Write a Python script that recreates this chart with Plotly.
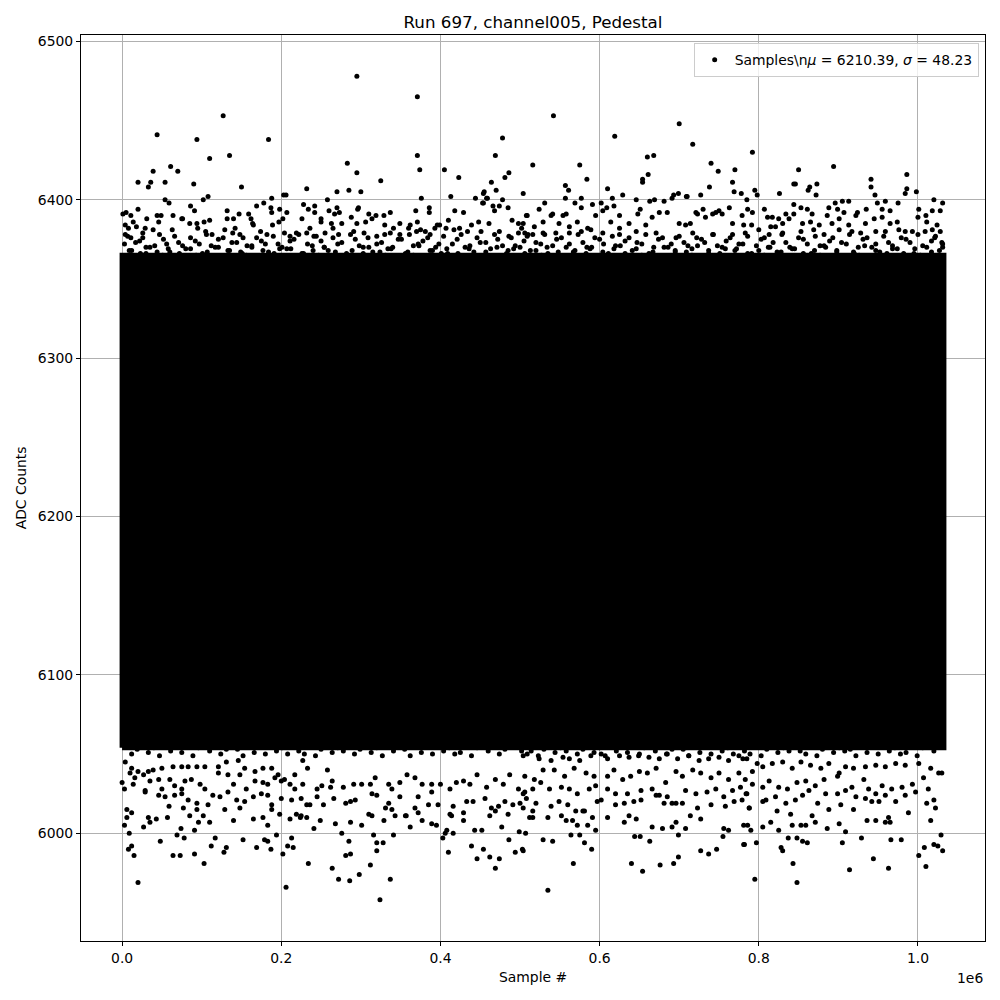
import plotly.graph_objects as go

TITLE = "Run 697, channel005, Pedestal"
N_SAMPLES = 1032600
MEAN = 6210.39
SIGMA = 48.23
# dense core band of overlapping samples (ADC counts)
CORE_LOW, CORE_HIGH = 6054, 6365

# sparse samples: (sample index in thousands, ADC counts)
upper_far = [
    (127, 6453), (44, 6441), (94, 6438), (184, 6438), (110, 6426), (135, 6428), (61, 6421),
    (39, 6418), (70, 6418), (20, 6411), (36, 6411), (33, 6408), (54, 6411), (90, 6410),
    (150, 6408), (232, 6407), (108, 6402), (102, 6400), (54, 6400), (59, 6398), (188, 6401),
    (203, 6403), (206, 6403),
    (295, 6478), (371, 6465), (371, 6428), (374, 6419), (283, 6423), (295, 6417), (325, 6412),
    (270, 6405), (285, 6406), (300, 6405), (258, 6400), (376, 6401), (405, 6419), (423, 6414),
    (478, 6439), (469, 6428), (486, 6417), (481, 6414), (464, 6411), (470, 6406), (454, 6404),
    (455, 6405), (413, 6402), (444, 6401), (478, 6400), (504, 6404), (459, 6401),
    (542, 6453), (619, 6440), (516, 6422), (575, 6422), (584, 6413), (557, 6409), (561, 6406),
    (610, 6407), (660, 6427), (668, 6428), (661, 6416), (654, 6411), (654, 6413), (700, 6448),
    (717, 6435), (740, 6423), (749, 6418), (770, 6419), (767, 6411), (769, 6405), (778, 6404),
    (738, 6408), (727, 6403), (709, 6402), (699, 6404), (693, 6403), (629, 6403), (616, 6401),
    (577, 6401), (557, 6401), (531, 6398),
    (792, 6430), (850, 6419), (894, 6421), (844, 6410), (846, 6410), (862, 6406), (864, 6408),
    (873, 6410), (872, 6403), (826, 6404), (795, 6406), (798, 6403), (941, 6413), (941, 6408),
    (946, 6403), (986, 6416), (986, 6407), (984, 6404), (998, 6405),
]
upper_near = [
    (1, 6391), (5, 6392), (11, 6390), (20, 6394), (31, 6388), (44, 6390), (49, 6390), (64, 6390),
    (75, 6388), (76, 6388), (86, 6396), (91, 6393), (94, 6385), (103, 6386), (110, 6387),
    (132, 6393), (132, 6388), (140, 6388), (147, 6391), (159, 6391), (162, 6388), (165, 6384),
    (169, 6396), (178, 6398), (187, 6395), (188, 6392), (198, 6394), (202, 6388), (207, 6392),
    (226, 6388), (228, 6397), (234, 6394),
    (4, 6384), (8, 6382), (14, 6386), (18, 6383), (26, 6379), (29, 6382), (39, 6381), (46, 6386),
    (63, 6381), (85, 6385), (95, 6382), (105, 6380), (113, 6378), (129, 6381), (139, 6379),
    (142, 6382), (152, 6376), (164, 6385), (174, 6380), (182, 6378), (189, 6384), (197, 6386),
    (204, 6379), (211, 6377), (219, 6379), (232, 6379), (236, 6382), (4, 6378), (11, 6376),
    (242, 6396), (242, 6392), (260, 6393), (270, 6395), (273, 6392), (267, 6391), (297, 6395),
    (296, 6394), (310, 6391), (319, 6390), (329, 6390), (337, 6392), (369, 6393), (371, 6386),
    (386, 6395), (386, 6392), (396, 6384), (418, 6393), (429, 6392), (410, 6387), (453, 6398),
    (454, 6398), (458, 6401), (466, 6396), (468, 6393), (474, 6396), (485, 6395), (490, 6387),
    (498, 6385), (504, 6385), (509, 6390), (250, 6388), (250, 6386), (263, 6385), (265, 6382),
    (276, 6385), (288, 6389), (295, 6385), (306, 6386), (314, 6388), (330, 6384), (341, 6382),
    (349, 6385), (360, 6382), (362, 6384), (375, 6381), (381, 6380), (393, 6382), (399, 6384),
    (407, 6382), (417, 6381), (424, 6382), (434, 6380), (439, 6384), (448, 6386), (451, 6380),
    (461, 6385), (474, 6380), (486, 6377), (498, 6379), (502, 6382), (510, 6378), (241, 6377),
    (255, 6379), (272, 6378), (291, 6380), (304, 6379), (320, 6377), (337, 6379), (349, 6378),
    (370, 6380), (387, 6378),
    (508, 6390), (524, 6394), (541, 6391), (554, 6390), (569, 6398), (577, 6395), (591, 6397),
    (602, 6398), (609, 6395), (618, 6396), (625, 6390), (646, 6400), (651, 6394), (663, 6399),
    (669, 6400), (681, 6399), (691, 6401), (710, 6402), (721, 6392), (730, 6394), (742, 6391),
    (750, 6393), (763, 6395), (779, 6390), (785, 6400),
    (518, 6383), (529, 6386), (539, 6390), (549, 6385), (558, 6391), (562, 6383), (572, 6386),
    (585, 6382), (595, 6390), (604, 6393), (614, 6386), (625, 6382), (637, 6385), (648, 6391),
    (658, 6384), (666, 6389), (675, 6392), (685, 6392), (700, 6385), (708, 6384), (714, 6385),
    (723, 6391), (733, 6389), (746, 6392), (754, 6391), (767, 6385), (781, 6384),
    (506, 6379), (516, 6378), (529, 6379), (545, 6379), (562, 6379), (577, 6380), (589, 6381),
    (604, 6379), (625, 6378), (646, 6380), (671, 6379), (696, 6376), (717, 6379), (742, 6378),
    (767, 6378), (783, 6379),
    (807, 6394), (786, 6394), (792, 6392), (817, 6389), (825, 6388), (834, 6391), (844, 6397),
    (853, 6395), (861, 6394), (867, 6391), (888, 6395), (896, 6398), (905, 6399), (913, 6399),
    (899, 6394), (907, 6392), (924, 6392), (935, 6394), (949, 6398), (959, 6399), (955, 6394),
    (965, 6393), (975, 6398), (1001, 6394), (1010, 6390), (1020, 6400), (1028, 6393),
    (1031, 6398), (1018, 6393),
    (791, 6384), (811, 6389), (815, 6383), (821, 6383), (830, 6385), (838, 6388), (844, 6391),
    (855, 6385), (865, 6386), (876, 6384), (886, 6390), (892, 6385), (901, 6388), (913, 6384),
    (922, 6390), (934, 6385), (945, 6388), (955, 6389), (965, 6385), (974, 6386), (993, 6380),
    (1000, 6389), (1011, 6386), (1024, 6384), (1018, 6381), (1028, 6380),
    (800, 6381), (813, 6378), (830, 6379), (853, 6380), (869, 6381), (882, 6378), (901, 6381),
    (917, 6380), (928, 6379), (947, 6380), (959, 6380), (976, 6381), (984, 6380), (1009, 6380),
    (1022, 6377),
]
upper_edge = [
    (3, 6372), (12, 6368), (22, 6374), (30, 6366), (41, 6371), (52, 6375), (60, 6367), (71, 6373),
    (80, 6369), (92, 6374), (101, 6366), (112, 6371), (121, 6375), (133, 6368), (144, 6373),
    (151, 6366), (163, 6370), (175, 6374), (184, 6367), (196, 6372), (207, 6369), (216, 6375),
    (228, 6366), (239, 6371), (250, 6374), (259, 6368), (271, 6372), (282, 6366), (293, 6375),
    (303, 6370), (315, 6367), (326, 6373), (334, 6369), (347, 6375), (356, 6366), (366, 6371),
    (378, 6374), (390, 6368), (398, 6372), (409, 6366), (421, 6375), (431, 6370), (442, 6367),
    (450, 6373), (463, 6369), (472, 6375), (483, 6366), (494, 6371), (505, 6374), (513, 6368),
    (526, 6372), (535, 6366), (546, 6375), (558, 6370), (567, 6367), (579, 6373), (588, 6369),
    (600, 6375), (611, 6366), (620, 6371), (632, 6374), (641, 6368), (653, 6372), (662, 6366),
    (674, 6375), (686, 6370), (695, 6367), (706, 6373), (716, 6369), (728, 6375), (737, 6366),
    (748, 6371), (759, 6374), (770, 6368), (780, 6372), (791, 6366), (803, 6375), (812, 6370),
    (823, 6367), (834, 6373), (845, 6369), (856, 6375), (866, 6366), (877, 6371), (889, 6374),
    (898, 6368), (910, 6372), (920, 6366), (931, 6375), (942, 6370), (952, 6367), (963, 6373),
    (974, 6369), (985, 6375), (995, 6366), (1006, 6371), (1017, 6374), (1027, 6368), (1031, 6372),
]
upper_edge_2 = [
    (7, 6377), (17, 6373), (26, 6376), (35, 6370), (47, 6378), (56, 6372), (66, 6377), (76, 6371),
    (86, 6376), (97, 6372), (106, 6378), (117, 6370), (127, 6376), (138, 6373), (148, 6378),
    (157, 6371), (169, 6376), (180, 6372), (190, 6377), (201, 6370), (211, 6374), (222, 6378),
    (233, 6372), (244, 6377), (254, 6370), (265, 6376), (276, 6373), (287, 6378), (298, 6371),
    (309, 6376), (320, 6372), (330, 6378), (340, 6370), (351, 6375), (361, 6378), (372, 6372),
    (384, 6376), (394, 6370), (404, 6377), (415, 6372), (426, 6378), (437, 6371), (446, 6376),
    (457, 6373), (468, 6378), (478, 6371), (489, 6376), (500, 6370), (509, 6377), (520, 6373),
    (531, 6378), (541, 6371), (552, 6376), (562, 6372), (573, 6378), (584, 6370), (594, 6376),
    (605, 6372), (616, 6377), (626, 6371), (637, 6376), (647, 6373), (658, 6378), (668, 6370),
    (679, 6376), (690, 6372), (700, 6377), (711, 6371), (722, 6376), (732, 6373), (743, 6378),
    (754, 6370), (764, 6376), (775, 6372), (786, 6377), (797, 6371), (807, 6376), (818, 6373),
    (829, 6378), (839, 6370), (850, 6376), (861, 6372), (871, 6377), (882, 6371), (893, 6376),
    (904, 6373), (914, 6378), (925, 6370), (936, 6376), (947, 6372), (957, 6377), (968, 6371),
    (979, 6376), (990, 6373), (1000, 6378), (1011, 6370), (1021, 6376), (1030, 6373),
]
# ragged rim of the core band (sample index in thousands / ADC counts)
top_rim_x_k = [
    2, 9, 16, 23, 30, 37, 44, 51, 58, 65, 72, 79, 86, 93, 100, 107, 114, 121, 128, 135,
    142, 149, 156, 163, 170, 177, 184, 191, 198, 205, 212, 219, 226, 233, 240, 247, 254, 261, 268, 275,
    282, 289, 296, 303, 310, 317, 324, 331, 338, 345, 352, 359, 366, 373, 380, 387, 394, 401, 408, 415,
    422, 429, 436, 443, 450, 457, 464, 471, 478, 485, 492, 499, 506, 513, 520, 527, 534, 541, 548, 555,
    562, 569, 576, 583, 590, 597, 604, 611, 618, 625, 632, 639, 646, 653, 660, 667, 674, 681, 688, 695,
    702, 709, 716, 723, 730, 737, 744, 751, 758, 765, 772, 779, 786, 793, 800, 807, 814, 821, 828, 835,
    842, 849, 856, 863, 870, 877, 884, 891, 898, 905, 912, 919, 926, 933, 940, 947, 954, 961, 968, 975,
    982, 989, 996, 1003, 1010, 1017, 1024, 1031,
]
top_rim_y = [
    6364, 6368, 6362, 6366, 6370, 6363, 6367, 6365, 6369, 6362, 6366, 6363, 6369, 6365, 6361, 6367, 6364, 6370, 6362, 6368,
    6362, 6367, 6365, 6371, 6363, 6368, 6361, 6366, 6369, 6364, 6369, 6364, 6366, 6362, 6368, 6365, 6370, 6363, 6367, 6361,
    6364, 6368, 6362, 6366, 6370, 6363, 6367, 6365, 6369, 6362, 6362, 6367, 6365, 6371, 6363, 6368, 6361, 6366, 6369, 6364,
    6366, 6363, 6369, 6365, 6361, 6367, 6364, 6370, 6362, 6368, 6369, 6364, 6366, 6362, 6368, 6365, 6370, 6363, 6367, 6361,
    6364, 6368, 6362, 6366, 6370, 6363, 6367, 6365, 6369, 6362, 6366, 6363, 6369, 6365, 6361, 6367, 6364, 6370, 6362, 6368,
    6362, 6367, 6365, 6371, 6363, 6368, 6361, 6366, 6369, 6364, 6369, 6364, 6366, 6362, 6368, 6365, 6370, 6363, 6367, 6361,
    6369, 6364, 6366, 6362, 6368, 6365, 6370, 6363, 6367, 6361, 6362, 6367, 6365, 6371, 6363, 6368, 6361, 6366, 6369, 6364,
    6366, 6363, 6369, 6365, 6361, 6367, 6364, 6370,
]
bottom_rim_x_k = [
    5, 12, 19, 26, 33, 40, 47, 54, 61, 68, 75, 82, 89, 96, 103, 110, 117, 124, 131, 138,
    145, 152, 159, 166, 173, 180, 187, 194, 201, 208, 215, 222, 229, 236, 243, 250, 257, 264, 271, 278,
    285, 292, 299, 306, 313, 320, 327, 334, 341, 348, 355, 362, 369, 376, 383, 390, 397, 404, 411, 418,
    425, 432, 439, 446, 453, 460, 467, 474, 481, 488, 495, 502, 509, 516, 523, 530, 537, 544, 551, 558,
    565, 572, 579, 586, 593, 600, 607, 614, 621, 628, 635, 642, 649, 656, 663, 670, 677, 684, 691, 698,
    705, 712, 719, 726, 733, 740, 747, 754, 761, 768, 775, 782, 789, 796, 803, 810, 817, 824, 831, 838,
    845, 852, 859, 866, 873, 880, 887, 894, 901, 908, 915, 922, 929, 936, 943, 950, 957, 964, 971, 978,
    985, 992, 999, 1006, 1013, 1020, 1027,
]
bottom_rim_y = [
    6055, 6050, 6053, 6057, 6051, 6054, 6049, 6056, 6052, 6055, 6051, 6056, 6049, 6054, 6057, 6052, 6055, 6050, 6053, 6056,
    6053, 6049, 6056, 6051, 6055, 6050, 6057, 6052, 6054, 6050, 6057, 6052, 6050, 6055, 6049, 6053, 6056, 6051, 6054, 6052,
    6055, 6050, 6053, 6057, 6051, 6054, 6049, 6056, 6052, 6055, 6053, 6049, 6056, 6051, 6055, 6050, 6057, 6052, 6054, 6050,
    6051, 6056, 6049, 6054, 6057, 6052, 6055, 6050, 6053, 6056, 6057, 6052, 6050, 6055, 6049, 6053, 6056, 6051, 6054, 6052,
    6055, 6050, 6053, 6057, 6051, 6054, 6049, 6056, 6052, 6055, 6051, 6056, 6049, 6054, 6057, 6052, 6055, 6050, 6053, 6056,
    6053, 6049, 6056, 6051, 6055, 6050, 6057, 6052, 6054, 6050, 6057, 6052, 6050, 6055, 6049, 6053, 6056, 6051, 6054, 6052,
    6057, 6052, 6050, 6055, 6049, 6053, 6056, 6051, 6054, 6052, 6053, 6049, 6056, 6051, 6055, 6050, 6057, 6052, 6054, 6050,
    6051, 6056, 6049, 6054, 6057, 6052, 6055,
]
lower_near = [
    (4, 6045), (12, 6041), (10, 6038), (16, 6035), (27, 6037), (20, 6039), (33, 6039), (39, 6040),
    (50, 6041), (64, 6042), (75, 6042), (83, 6042), (94, 6042), (104, 6042), (121, 6042),
    (131, 6045), (146, 6046), (154, 6041), (167, 6039), (177, 6041), (188, 6041), (196, 6037),
    (204, 6034), (217, 6037), (227, 6046), (233, 6041),
    (0, 6032), (3, 6028), (14, 6031), (29, 6027), (35, 6033), (46, 6034), (50, 6028), (60, 6034),
    (66, 6030), (75, 6028), (79, 6033), (87, 6034), (98, 6031), (104, 6028), (121, 6038),
    (133, 6037), (140, 6031), (148, 6037), (156, 6028), (167, 6033), (177, 6032), (183, 6031),
    (192, 6035), (200, 6033), (211, 6031), (217, 6028), (227, 6031),
    (29, 6026), (46, 6024), (54, 6023), (66, 6024), (75, 6025), (83, 6021), (94, 6019),
    (108, 6018), (114, 6024), (123, 6023), (133, 6026), (144, 6021), (154, 6020), (165, 6023),
    (175, 6025), (183, 6024), (188, 6018), (200, 6022), (213, 6021), (225, 6022), (236, 6018),
    (6, 6015), (12, 6013), (6, 6010), (33, 6010), (35, 6007), (43, 6009), (57, 6010), (59, 6017),
    (77, 6016), (85, 6011), (94, 6015), (96, 6007), (102, 6011), (110, 6007), (129, 6015),
    (140, 6008), (148, 6016), (165, 6009), (177, 6010), (183, 6005), (188, 6015), (198, 6012),
    (211, 6009), (219, 6012), (225, 6011),
    (258, 6040), (264, 6033), (245, 6028), (251, 6030), (262, 6029), (278, 6029), (291, 6031),
    (301, 6031), (312, 6031), (318, 6035), (335, 6031), (339, 6028), (349, 6032), (358, 6037),
    (368, 6035), (377, 6031), (389, 6031), (400, 6031), (412, 6028), (420, 6032), (429, 6033),
    (437, 6031), (446, 6037), (458, 6029), (469, 6034), (479, 6031), (487, 6037), (498, 6028),
    (506, 6026),
    (232, 6018), (245, 6023), (253, 6018), (266, 6022), (281, 6019), (287, 6020), (293, 6021),
    (314, 6025), (320, 6024), (331, 6016), (335, 6019), (339, 6015), (349, 6023), (356, 6011),
    (368, 6016), (372, 6023), (385, 6018), (389, 6026), (397, 6018), (416, 6017), (412, 6012),
    (433, 6020), (441, 6020), (456, 6022), (464, 6016), (473, 6017), (481, 6020), (491, 6018),
    (500, 6019), (508, 6022),
    (224, 6010), (232, 6010), (241, 6003), (249, 6008), (268, 6006), (287, 6007), (301, 6005),
    (310, 6012), (314, 6011), (329, 6008), (343, 6011), (357, 6011), (362, 6004), (372, 6013),
    (377, 6008), (389, 6006), (395, 6005), (408, 6002), (414, 6011), (429, 6013), (429, 6008),
    (443, 6002), (452, 6002), (462, 6011), (469, 6014), (477, 6004), (485, 6012), (512, 6010),
    (504, 6049), (514, 6052), (524, 6047), (539, 6046), (554, 6048), (562, 6047), (575, 6046),
    (589, 6049), (602, 6050), (610, 6047), (625, 6049), (637, 6048), (650, 6050), (662, 6048),
    (675, 6047), (685, 6050), (698, 6047), (712, 6049), (725, 6046), (737, 6047), (750, 6048),
    (762, 6046), (775, 6049), (785, 6047),
    (506, 6036), (518, 6034), (529, 6040), (543, 6040), (556, 6036), (568, 6041), (583, 6038),
    (593, 6036), (610, 6036), (618, 6040), (629, 6034), (639, 6036), (650, 6039), (660, 6038),
    (671, 6041), (683, 6032), (696, 6039), (704, 6036), (717, 6040), (727, 6038), (740, 6035),
    (750, 6038), (762, 6034), (775, 6038), (783, 6034),
    (504, 6025), (516, 6028), (526, 6032), (537, 6028), (552, 6029), (562, 6028), (572, 6025),
    (587, 6028), (595, 6030), (610, 6028), (620, 6025), (635, 6025), (652, 6027), (666, 6028),
    (675, 6024), (685, 6023), (696, 6019), (708, 6027), (721, 6025), (735, 6026), (746, 6028),
    (756, 6023), (767, 6027), (777, 6029), (785, 6025),
    (504, 6016), (516, 6014), (520, 6019), (539, 6017), (549, 6020), (560, 6018), (570, 6014),
    (579, 6014), (597, 6020), (602, 6021), (620, 6018), (631, 6019), (643, 6020), (652, 6021),
    (671, 6024), (681, 6019), (691, 6019), (704, 6019), (723, 6016), (740, 6018), (758, 6017),
    (769, 6020), (779, 6021), (788, 6016),
    (516, 6010), (535, 6010), (552, 6011), (558, 6008), (566, 6008), (572, 6005), (581, 6014),
    (591, 6010), (585, 6005), (610, 6010), (631, 6007), (637, 6011), (646, 6009), (666, 6004),
    (679, 6003), (691, 6004), (696, 6007), (708, 6003), (714, 6011), (727, 6009), (756, 6003),
    (762, 6002), (781, 6005),
    (780, 6047), (792, 6039), (798, 6044), (805, 6042), (817, 6044), (830, 6045), (842, 6041),
    (853, 6045), (865, 6043), (878, 6041), (888, 6044), (901, 6038), (909, 6042), (919, 6041),
    (934, 6042), (947, 6043), (959, 6042), (972, 6044), (984, 6043), (1001, 6044), (1016, 6041),
    (1026, 6038), (1030, 6038),
    (784, 6025), (792, 6031), (805, 6029), (813, 6033), (825, 6029), (836, 6028), (848, 6032),
    (859, 6033), (871, 6030), (882, 6034), (899, 6036), (909, 6027), (917, 6029), (932, 6034),
    (938, 6028), (947, 6025), (955, 6030), (967, 6028), (980, 6029), (993, 6031), (1007, 6035),
    (1013, 6028),
    (788, 6016), (805, 6020), (809, 6021), (821, 6023), (834, 6019), (846, 6021), (855, 6024),
    (863, 6027), (874, 6019), (884, 6025), (888, 6015), (899, 6025), (903, 6018), (919, 6015),
    (922, 6023), (934, 6022), (942, 6020), (951, 6020), (959, 6024), (972, 6020), (984, 6024),
    (997, 6026), (1011, 6019), (1020, 6021), (1022, 6016),
    (786, 6005), (790, 6002), (805, 6004), (815, 6007), (823, 6014), (825, 6002), (840, 6012),
    (842, 6005), (853, 6005), (859, 6005), (867, 6011), (871, 6007), (886, 6003), (901, 6006),
    (909, 6001), (936, 6008), (947, 6008), (959, 6007), (965, 6007), (963, 6010), (988, 6013),
    (1016, 6008),
]
lower_far = [
    (3, 6005), (9, 6000), (27, 6004), (48, 5995), (69, 5999), (74, 6003), (78, 5997), (91, 6002),
    (117, 5997), (112, 5992), (131, 5991), (128, 5988), (152, 5996), (169, 5991), (179, 5996),
    (183, 5995), (187, 5990), (194, 5999), (202, 5987), (208, 5992), (213, 5997), (215, 5991),
    (8, 5990), (12, 5992), (15, 5986), (64, 5986), (73, 5986), (91, 5987), (103, 5981),
    (20, 5969), (206, 5966), (234, 5981),
    (276, 6000), (285, 5995), (316, 5999), (320, 5994), (328, 5994), (320, 5989), (341, 5999),
    (403, 5997), (406, 6000), (416, 6000), (410, 5988), (439, 5992), (454, 5990), (446, 5984),
    (462, 5985), (474, 5984), (469, 5978), (486, 5996), (494, 5988), (503, 5990), (499, 6001),
    (264, 5978), (272, 5971), (286, 5970), (298, 5974), (312, 5980), (337, 5971), (324, 5958),
    (281, 5986), (287, 5987),
    (507, 6000), (529, 5996), (541, 5995), (564, 5999), (575, 5999), (581, 5994),
    (595, 6002), (590, 5990), (504, 5989), (644, 5998), (651, 5998), (663, 5995), (699, 5999),
    (727, 5989), (737, 5987), (747, 5990), (755, 5998), (781, 5993), (567, 5981), (640, 5981),
    (654, 5976), (676, 5980), (693, 5981), (699, 5985), (535, 5964),
    (782, 5993), (797, 5994), (828, 5991), (830, 5989), (837, 5997), (848, 5997), (855, 5995),
    (861, 5994), (905, 5994), (929, 5997), (966, 5996), (979, 5996), (1001, 5986), (1008, 5991),
    (1020, 5993), (1025, 5992), (1031, 5989), (1029, 5999), (1010, 5979), (963, 5978),
    (944, 5984), (914, 5977), (843, 5981), (795, 5971), (848, 5969),
]

x_tick_vals = [0, 200000, 400000, 600000, 800000, 1000000]
x_tick_text = ["0.0", "0.2", "0.4", "0.6", "0.8", "1.0"]
y_tick_vals = [6000, 6100, 6200, 6300, 6400, 6500]

points = upper_far + upper_near + upper_edge + upper_edge_2 + lower_near + lower_far
pt_x = [p[0] * 1000 for p in points]
pt_y = [p[1] for p in points]
pt_x += [v * 1000 for v in top_rim_x_k] + [v * 1000 for v in bottom_rim_x_k]
pt_y += top_rim_y + bottom_rim_y

y_all = pt_y + [CORE_LOW, CORE_HIGH]
y_min, y_max = min(y_all), max(y_all)
y_pad = 0.05 * (y_max - y_min)
x_pad = 0.05 * N_SAMPLES

FONT = "DejaVu Sans"
FS = 13.9
legend_label = "Samples\\n<i>μ</i> = %.2f, <i>σ</i> = %.2f" % (MEAN, SIGMA)

fig = go.Figure()
fig.add_trace(go.Scatter(
    x=[0, N_SAMPLES, N_SAMPLES, 0, 0],
    y=[CORE_LOW, CORE_LOW, CORE_HIGH, CORE_HIGH, CORE_LOW],
    mode="lines", fill="toself", fillcolor="black",
    line=dict(color="black", width=5), showlegend=False, hoverinfo="skip",
))
fig.add_trace(go.Scatter(
    x=pt_x, y=pt_y, mode="markers",
    marker=dict(color="black", size=5, line=dict(width=0)),
    name=legend_label, showlegend=True,
))

axis_common = dict(
    ticks="outside", ticklen=4, tickwidth=1, tickcolor="black",
    showline=True, linecolor="black", linewidth=1, mirror=True,
    showgrid=True, gridcolor="#b0b0b0", gridwidth=1, zeroline=False,
    tickfont=dict(family=FONT, size=FS, color="black"),
)
fig.update_xaxes(range=[-x_pad, N_SAMPLES + x_pad], tickmode="array",
                 tickvals=x_tick_vals, ticktext=x_tick_text, **axis_common)
fig.update_yaxes(range=[y_min - y_pad, y_max + y_pad], tickmode="array",
                 tickvals=y_tick_vals, ticktext=[str(v) for v in y_tick_vals], **axis_common)

# page body has an 8px margin, so the figure is offset by (8, 8)
fig.update_layout(
    width=1000, height=1000,
    margin=dict(l=73, r=23, t=27, b=67, autoexpand=False),
    paper_bgcolor="white", plot_bgcolor="white",
    font=dict(family=FONT, size=FS, color="black"),
    title=dict(text=TITLE, x=0.5, xref="paper", y=0.986, yref="container",
               xanchor="center", yanchor="middle",
               font=dict(family=FONT, size=16.7, color="black")),
    showlegend=True,
    legend=dict(x=0.993, y=0.991, xanchor="right", yanchor="top",
                bgcolor="rgba(255,255,255,0.8)", bordercolor="#cccccc", borderwidth=1,
                font=dict(family=FONT, size=FS, color="black"), itemsizing="trace"),
    annotations=[
        dict(text="Sample #", x=0.5, y=-0.04, xref="paper", yref="paper",
             showarrow=False, xanchor="center", yanchor="middle",
             font=dict(family=FONT, size=FS, color="black")),
        dict(text="ADC Counts", x=-0.066, y=0.5, xref="paper", yref="paper",
             showarrow=False, xanchor="center", yanchor="middle", textangle=-90,
             font=dict(family=FONT, size=FS, color="black")),
        dict(text="1e6", x=1.0, y=-0.041, xref="paper", yref="paper",
             showarrow=False, xanchor="right", yanchor="middle",
             font=dict(family=FONT, size=FS, color="black")),
    ],
)

fig.write_html("out.html")
